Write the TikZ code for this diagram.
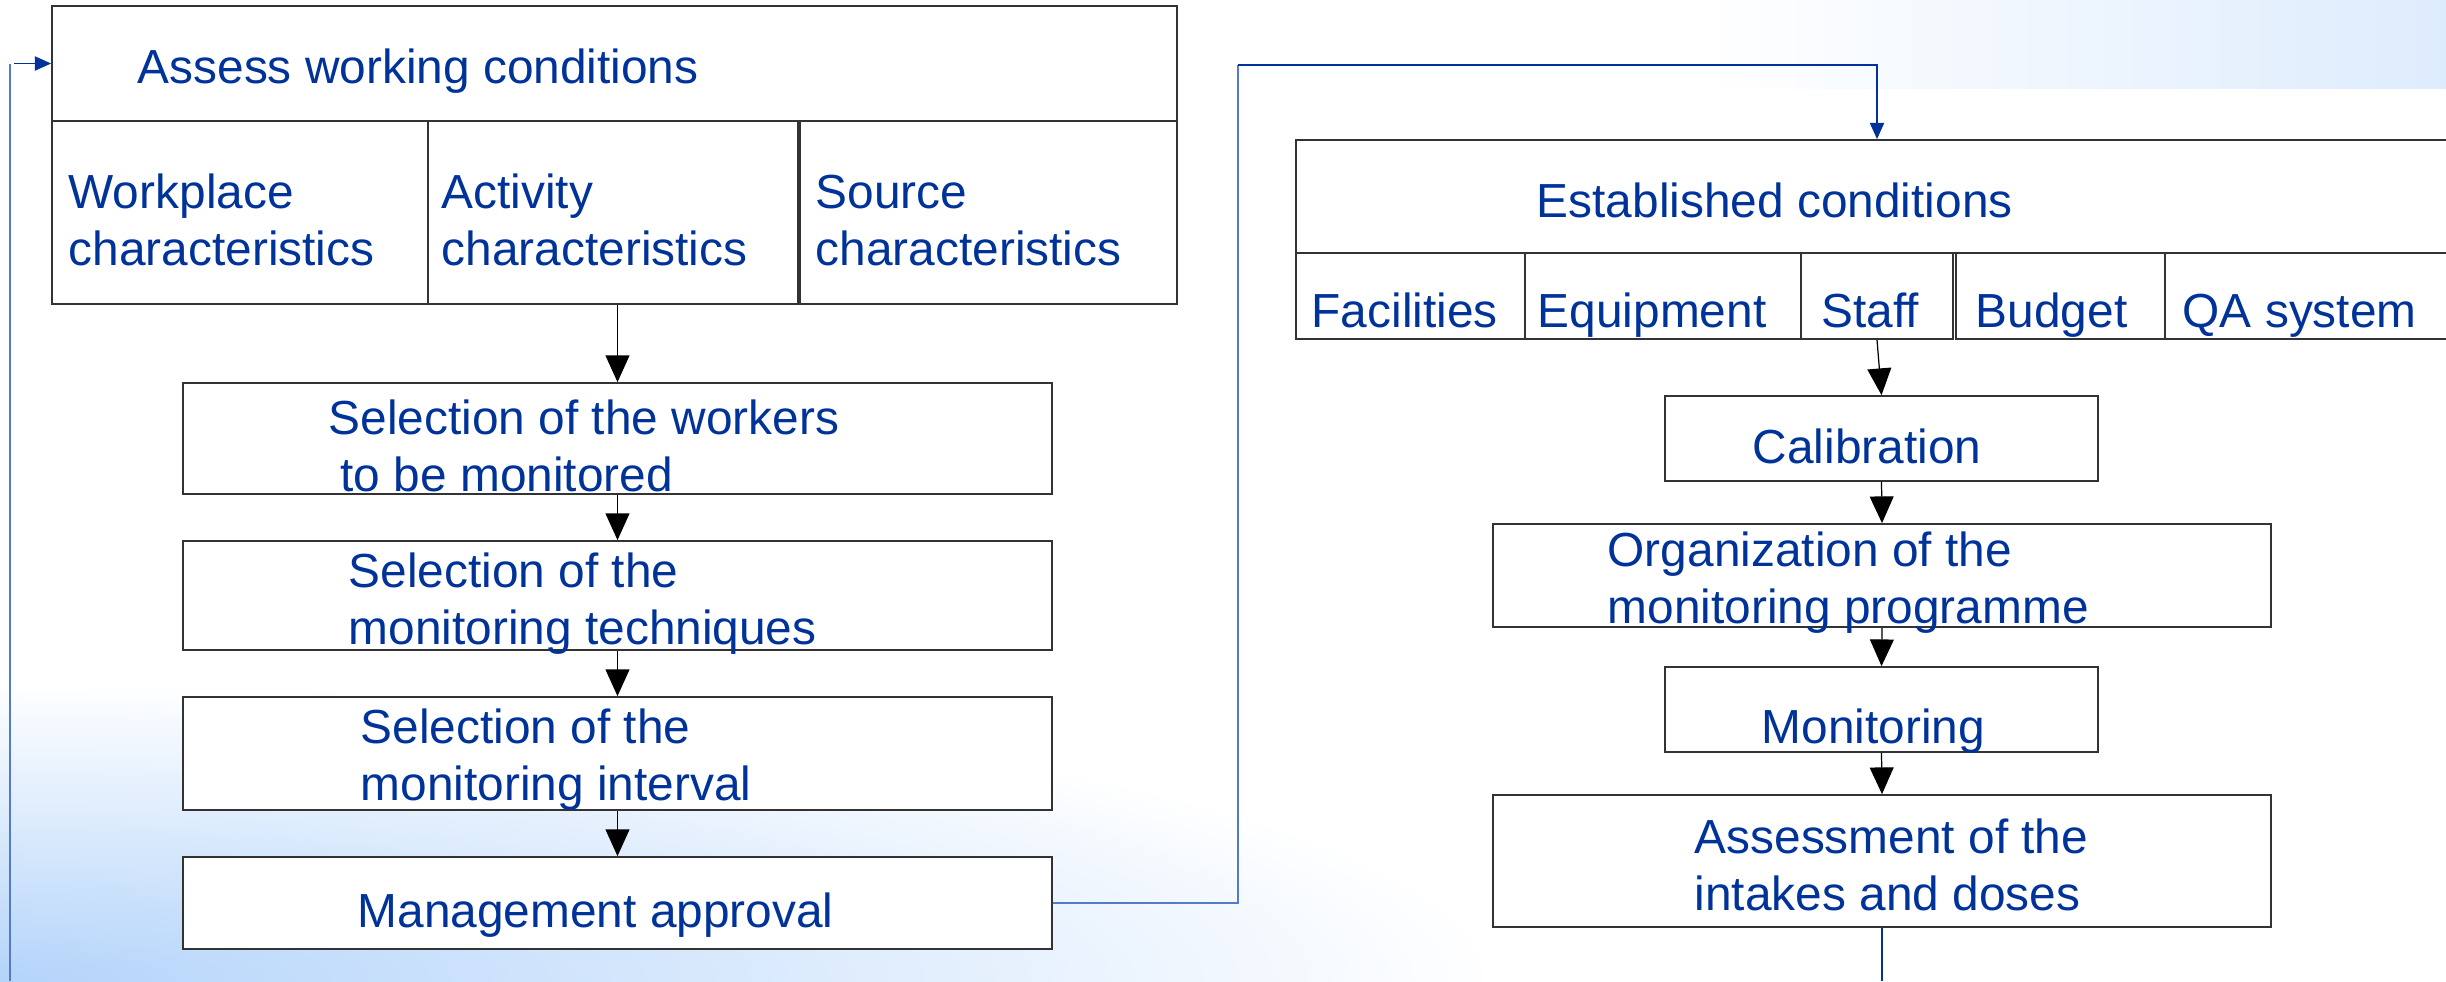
\documentclass[tikz,border=0pt]{standalone}
\usepackage{fontspec}
\setmainfont{Liberation Sans}
\usetikzlibrary{arrows.meta,fit}
\definecolor{txtblue}{RGB}{0,51,153}
\definecolor{linkblue}{RGB}{84,122,204}
\definecolor{paleblue}{RGB}{180,212,250}

\begin{document}
\begin{tikzpicture}[x=0.01cm,y=-0.01cm,
  cell/.style={draw=black!80,fill=white,line width=0.5pt,inner sep=0pt},
  lbl/.style={anchor=base west,align=left,inner sep=0pt,text=txtblue,
    font=\fontsize{13.6}{16.2}\selectfont},
  flow/.style={-{Triangle[width=6.8pt,length=7.6pt]},line width=0.35pt},
  loop/.style={draw=txtblue,line width=0.5pt},
  tip/.style={-{Triangle[width=4pt,length=4.6pt]}}
  ]
  \useasboundingbox (0,0) rectangle (2446,981);
  \clip (0,0) rectangle (2446,981);
  \shade[inner color=paleblue,outer color=white] (0,981) ellipse (1500 and 300);
  \shade[left color=white,right color=paleblue!45] (1700,0) rectangle (2446,88);

  % assessment of the working conditions
  \node[cell,fit={(52,6) (1177,121)}] (assess) {};
  \node[cell,fit={(52,121) (428,304)}] (workpl) {};
  \node[cell,fit={(428,121) (798,304)}] (activ) {};
  \node[cell,fit={(800,121) (1177,304)}] (source) {};
  \node[lbl] (assessT) at (137,83) {Assess working conditions};
  \node[lbl] (workplT) at (68,265) {Workplace\\characteristics};
  \node[lbl] (activT) at (441,265) {Activity\\characteristics};
  \node[lbl] (sourceT) at (815,265) {Source\\characteristics};

  \node[cell,fit={(183,383) (1052,494)}] (sel1) {};
  \node[cell,fit={(183,541) (1052,650)}] (sel2) {};
  \node[cell,fit={(183,697) (1052,810)}] (sel3) {};
  \node[cell,fit={(183,857) (1052,949)}] (mgmt) {};
  \node[lbl] (sel1T) at (328,491) {Selection of the workers\\\hspace*{3.4pt}to be monitored};
  \node[lbl] (sel2T) at (348,644) {Selection of the\\monitoring techniques};
  \node[lbl] (sel3T) at (360,800) {Selection of the\\monitoring interval};
  \node[lbl] (mgmtT) at (357,927) {Management approval};

  % established conditions
  \node[cell,fit={(1296,140) (2470,253)}] (est) {};
  \node[cell,fit={(1296,253) (1525,339)}] (facil) {};
  \node[cell,fit={(1525,253) (1801,339)}] (equip) {};
  \node[cell,fit={(1801,253) (1953,339)}] (staff) {};
  \node[cell,fit={(1956,253) (2165,339)}] (budget) {};
  \node[cell,fit={(2165,253) (2470,339)}] (qa) {};
  \node[lbl] (estT) at (1536,217) {Established conditions};
  \node[lbl] (facilT) at (1311,327) {Facilities};
  \node[lbl] (equipT) at (1537,327) {Equipment};
  \node[lbl] (staffT) at (1821,327) {Staff};
  \node[lbl] (budgetT) at (1975,327) {Budget};
  \node[lbl] (qaT) at (2182,327) {QA system};

  \node[cell,fit={(1665,396) (2098,481)}] (calib) {};
  \node[cell,fit={(1493,524) (2271,627)}] (organ) {};
  \node[cell,fit={(1665,667) (2098,752)}] (monit) {};
  \node[cell,fit={(1493,795) (2271,927)}] (dose) {};
  \node[lbl] (calibT) at (1752,463) {Calibration};
  \node[lbl] (organT) at (1607,623) {Organization of the\\monitoring programme};
  \node[lbl] (monitT) at (1761,743) {Monitoring};
  \node[lbl] (doseT) at (1694,910) {Assessment of the\\intakes and doses};

  % steps
  \draw[flow] (sel1.north |- activ.south) -- (sel1.north);
  \draw[flow] (sel1.south) -- (sel2.north);
  \draw[flow] (sel2.south) -- (sel3.north);
  \draw[flow] (sel3.south) -- (mgmt.north);
  \draw[flow] (staff.south) -- (calib.north);
  \draw[flow] (calib.south) -- (organ.north);
  \draw[flow] (organ.south) -- (monit.north);
  \draw[flow] (monit.south) -- (dose.north);

  % feedback lines
  \coordinate (bend) at (1238,65);
  \coordinate (back) at (10,981);
  \coordinate (down) at (1877,981);
  \draw[loop,draw=linkblue] (mgmt.east) -| (bend);
  \draw[loop,tip] (bend) -| (staff.north |- est.north);
  \draw[loop,draw=linkblue] (back) -- (back |- assess.west);
  \draw[loop,tip] ([xshift=1.2pt]back |- assess.west) -- (assess.west);
  \draw[loop] (dose.south) -- (dose.south |- down);
\end{tikzpicture}
\end{document}
